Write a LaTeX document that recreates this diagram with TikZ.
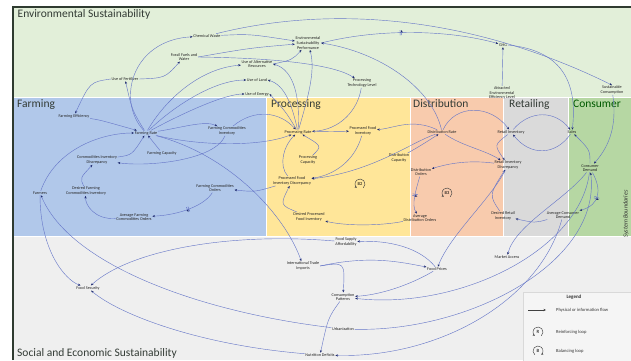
\documentclass[tikz,border=0pt]{standalone}
\usepackage{fontspec}
\setmainfont{Carlito}
\usetikzlibrary{arrows.meta,decorations.markings}
\definecolor{envc}{HTML}{E2EFD9}
\definecolor{farmc}{HTML}{B1C8EA}
\definecolor{procc}{HTML}{FFE699}
\definecolor{distc}{HTML}{F8CBAD}
\definecolor{retc}{HTML}{DADADA}
\definecolor{consc}{HTML}{B6D7A3}
\definecolor{socc}{HTML}{EFEFEF}
\definecolor{framec}{HTML}{2F3B30}
\definecolor{linec}{HTML}{6676C8}
\definecolor{tipc}{HTML}{1E2A6E}
\definecolor{titc}{HTML}{333B35}
\tikzset{
  lbl/.style={font=\fontsize{4.2}{4.6}\selectfont, align=center, inner sep=0.6pt, text=black!85},
  ttl/.style={font=\fontsize{11.5}{13}\selectfont, text=titc, anchor=base west, inner sep=0pt},
  cn/.style={draw=linec, line width=0.42pt, -{Stealth[length=2.6pt,width=2.2pt,color=tipc]}},
  delaymk/.style={postaction={decorate}, decoration={markings, mark=at position #1 with {\draw[linec, line width=0.5pt] (-0.8pt,-2.6pt) -- (-0.8pt,2.6pt) (0.8pt,-2.6pt) -- (0.8pt,2.6pt);}}},
  loopst/.style={draw=black!75, line width=0.45pt, -{Stealth[length=2.2pt,width=2pt]}},
  leglbl/.style={font=\fontsize{4.6}{5.2}\selectfont, anchor=west, inner sep=0pt, text=black!80}
}
\begin{document}
\begin{tikzpicture}[x=1pt,y=-1pt]
\useasboundingbox (0,0) rectangle (631,360);
\fill[white] (0,0) rectangle (631,360);
% regions
\fill[envc] (13,7) rectangle (631,97);
\fill[farmc] (13,97) rectangle (266,236);
\fill[procc] (266,97) rectangle (410,236);
\fill[distc] (410,97) rectangle (503,236);
\fill[retc] (503,97) rectangle (568,236);
\fill[consc] (568,97) rectangle (631,236);
\fill[socc] (13,236) rectangle (631,360);
\draw[white, line width=0.8pt] (13,97) -- (631,97) (13,236) -- (631,236)
  (266,97) -- (266,236) (410,97) -- (410,236) (503,97) -- (503,236) (568,97) -- (568,236);
\draw[framec, line width=1.6pt] (13,360) -- (13,7) -- (631,7);
% titles
\node[ttl] (tenv) at (17.5,17) {Environmental Sustainability};
\node[ttl] (tfarm) at (17,107.5) {Farming};
\node[ttl] (tproc) at (271,107.5) {Processing};
\node[ttl] (tdist) at (413,107.5) {Distribution};
\node[ttl] (tret) at (509,107.5) {Retailing};
\node[ttl, text=green!35!black] (tcons) at (573,107.5) {Consumer};
\node[ttl, font=\fontsize{11.5}{13}\selectfont] (tsoc) at (17,356.5) {Social and Economic Sustainability};
\node[font=\fontsize{6.2}{7}\selectfont\itshape, rotate=90, text=black!80, inner sep=0pt] (tsys) at (626,214) {System Boundaries};
% legend
\draw[draw=black!15, fill=white!96!black] (523,292) rectangle (631,361);
\node[font=\fontsize{5}{6}\selectfont\bfseries, text=black!80] (leg) at (574,297) {Legend};
\coordinate (la) at (528,310);
\coordinate (lb) at (546,310);
\draw[draw=black!75, line width=0.5pt, -{Stealth[length=2.6pt,width=2.4pt]}] (la) -- (lb);
\node[leglbl] (lg1) at (556,310) {Physical or information flow};
\node[font=\fontsize{4.8}{5}\selectfont, inner sep=0pt] (lr) at (538,332) {R};
\draw[loopst] ([shift={(3.2pt,-3.8pt)}]lr.center) arc[start angle=-50,end angle=230,radius=5pt];
\node[leglbl] (lg2) at (556,332) {Reinforcing loop};
\node[font=\fontsize{4.8}{5}\selectfont, inner sep=0pt] (lbb) at (538,351) {B};
\draw[loopst] ([shift={(-3.2pt,-3.8pt)}]lbb.center) arc[start angle=230,end angle=-50,radius=5pt];
\node[leglbl] (lg3) at (556,351) {Balancing loop};

% environmental nodes
\node[lbl] (chem) at (207,36) {Chemical Waste};
\node[lbl] (foss) at (184,57) {Fossil Fuels and\\Water};
\node[lbl] (fert) at (125,79) {Use of Fertilizer};
\node[lbl] (esp) at (308,43) {Environmental\\Sustainability\\Performance};
\node[lbl] (alt) at (257,64) {Use of Alternative\\Resources};
\node[lbl] (land) at (257,80) {Use of Land};
\node[lbl] (energy) at (257,94) {Use of Energy};
\node[lbl] (ptl) at (362,83) {Processing\\Technology Level};
\node[lbl] (ghg) at (503,45) {GHG};
\node[lbl] (aee) at (502,93) {Attracted\\Environmental\\Efficiency Level};
\node[lbl] (scons) at (612,90) {Sustainable\\Consumption};
% farming nodes
\node[lbl] (feff) at (74,116) {Farming Efficiency};
\node[lbl] (frate) at (146,133) {Farming Rate};
\node[lbl] (fcap) at (162,153) {Farming Capacity};
\node[lbl] (cid) at (97,160) {Commodities Inventory\\Discrepancy};
\node[lbl] (dfci) at (86,191) {Desired Farming\\Commodities Inventory};
\node[lbl] (farmers) at (40,193) {Farmers};
\node[lbl] (afco) at (134,217) {Average Farming\\Commodities Orders};
\node[lbl] (fco) at (215,188) {Farming Commodities\\Orders};
\node[lbl] (fci) at (227,131) {Farming Commodities\\Inventory};
% processing nodes
\node[lbl] (prate) at (298,132) {Processing Rate};
\node[lbl] (pcap) at (308,160) {Processing\\Capacity};
\node[lbl] (pfi) at (363,131) {Processed Food\\Inventory};
\node[lbl] (dcap) at (399,158) {Distribution\\Capacity};
\node[lbl] (pfid) at (292,181) {Processed Food\\Inventory Discrepancy};
\node[lbl] (dpfi) at (309,217) {Desired Processed\\Food Inventory};
\node[font=\fontsize{4.5}{5}\selectfont, inner sep=0pt] (loopa) at (360,184) {B2};
\draw[loopst] ([shift={(3.2pt,-3.8pt)}]loopa.center) arc[start angle=-50,end angle=230,radius=5pt];
% distribution nodes
\node[lbl] (drate) at (442,132) {Distribution Rate};
\node[lbl] (dord) at (421,172) {Distribution\\Orders};
\node[lbl] (ado) at (420,218) {Average\\Distribution Orders};
\node[font=\fontsize{4.5}{5}\selectfont, inner sep=0pt] (loopb) at (447,193) {B3};
\draw[loopst] ([shift={(3.2pt,-3.8pt)}]loopb.center) arc[start angle=-50,end angle=230,radius=5pt];
% retail nodes
\node[lbl] (rinv) at (511,132) {Retail Inventory};
\node[lbl] (rid) at (508,165) {Retail Inventory\\Discrepancy};
\node[lbl] (dri) at (503,216) {Desired Retail\\Inventory};
% consumer nodes
\node[lbl] (sales) at (572,132) {Sales};
\node[lbl] (cd) at (590,168) {Consumer\\Demand};
\node[lbl] (acd) at (563,215) {Average Consumer\\Demand};
% social nodes
\node[lbl] (fsa) at (346,242) {Food Supply\\Affordability};
\node[lbl] (iti) at (303,266) {International Trade\\Imports};
\node[lbl] (fp) at (437,269) {Food Prices};
\node[lbl] (ma) at (507,257) {Market Access};
\node[lbl] (cp) at (343,297) {Consumption\\Patterns};
\node[lbl] (urb) at (343,329) {Urbanization};
\node[lbl] (nd) at (320,355) {Nutrition Deficits};
\node[lbl] (fs) at (88,288) {Food Security};

% environmental connectors
\draw[cn] (frate) .. controls (116,100) and (132,40) .. (chem);
\draw[cn] (frate) .. controls (132,110) .. (fert);
\draw[cn] (fert.west) .. controls (90,82) .. (feff);
\draw[cn] (fert.east) .. controls (165,78) .. (foss);
\draw[cn] (frate) .. controls (165,100) and (200,68) .. (alt);
\draw[cn] (frate) .. controls (175,105) and (215,80) .. (land);
\draw[cn] (frate) .. controls (185,112) and (225,94) .. (energy);
\draw[cn] (prate) .. controls (300,100) and (295,70) .. (alt.east);
\draw[cn] (prate) .. controls (292,105) and (285,85) .. (land.east);
\draw[cn] (prate) .. controls (286,112) .. (energy.east);
\draw[cn] (prate) .. controls (307,100) and (316,72) .. (esp);
\draw[cn] (chem) .. controls (250,34) .. (esp);
\draw[cn] (foss.east) .. controls (250,48) .. (esp);
\draw[cn] (alt.east) .. controls (292,60) .. (esp);
\draw[cn] (foss.east) .. controls (280,58) and (335,65) .. (ptl);
\draw[cn] (ptl) .. controls (358,110) and (340,130) .. (prate);
\draw[cn] (chem) .. controls (330,5) and (470,15) .. (scons.north);
\draw[cn, delaymk=0.45] (esp.east) .. controls (380,28) and (450,30) .. (ghg);
\draw[cn] (ghg.east) .. controls (560,50) and (578,80) .. (sales);
\draw[cn] (aee) -- (ghg);
\draw[cn] (scons) .. controls (618,130) and (606,150) .. (cd);
\draw[cn] (drate) .. controls (432,88) and (380,52) .. (esp.east);
% farming connectors
\draw[cn] (feff) .. controls (100,120) .. (frate);
\draw[cn] (farmers) .. controls (55,150) and (100,133) .. (frate);
\draw[cn] (fcap) -- (frate);
\draw[cn] (cid) .. controls (132,155) .. (frate);
\draw[cn] (fci) .. controls (215,160) and (150,167) .. (cid);
\draw[cn] (dfci) .. controls (80,178) .. (cid);
\draw[cn] (afco) .. controls (95,220) and (85,205) .. (dfci);
\draw[cn, delaymk=0.45] (fco) .. controls (205,205) and (180,215) .. (afco);
\draw[cn] (frate) .. controls (180,128) and (205,120) .. (fci);
\draw[cn] (fci) .. controls (255,108) and (280,112) .. (prate);
\draw[cn] (frate) .. controls (200,146) and (260,147) .. (prate);
\draw[cn] (pfid) .. controls (255,192) .. (fco);
\draw[cn] (frate) .. controls (230,155) and (285,215) .. (iti);
% processing connectors
\draw[cn] (prate) -- (pfi);
\draw[cn] (drate) .. controls (412,118) and (395,128) .. (pfi);
\draw[cn] (pcap) .. controls (322,146) .. (prate);
\draw[cn] (pfi) .. controls (355,160) and (335,175) .. (pfid);
\draw[cn] (pfid) .. controls (278,165) and (284,145) .. (prate);
\draw[cn] (dpfi) .. controls (280,205) .. (pfid);
\draw[cn] (ado) .. controls (380,226) and (345,226) .. (dpfi);
\draw[cn] (drate) .. controls (412,142) and (372,172) .. (pfid);
\draw[cn] (dcap) .. controls (420,146) .. (drate);
% distribution / retail / consumer connectors
\draw[cn, delaymk=0.5] (dord) .. controls (416,190) and (411,205) .. (ado);
\draw[cn] (rid) .. controls (470,160) and (450,163) .. (dord);
\draw[cn] (drate) .. controls (455,104) and (490,104) .. (rinv);
\draw[cn] (drate) .. controls (462,146) and (485,150) .. (rid);
\draw[cn] (rinv) .. controls (494,145) .. (rid);
\draw[cn] (dri) .. controls (489,195) .. (rid);
\draw[cn] (acd) .. controls (535,223) .. (dri);
\draw[cn] (rinv) .. controls (530,110) and (555,110) .. (sales);
\draw[cn] (sales) .. controls (555,156) and (530,156) .. (rinv);
\draw[cn] (cd) .. controls (590,150) .. (sales);
\draw[cn, delaymk=0.55] (cd) .. controls (602,190) and (600,205) .. (acd);
% social connectors
\draw[cn] (rid) .. controls (490,200) and (450,235) .. (fp);
\draw[cn] (cd) .. controls (565,200) and (515,225) .. (ma);
\draw[cn] (iti.east) .. controls (345,262) .. (cp);
\draw[cn] (iti.east) .. controls (370,255) and (400,262) .. (fp);
\draw[cn] (fp) .. controls (410,285) and (380,295) .. (cp);
\draw[cn] (cd) .. controls (580,250) and (460,310) .. (cp);
\draw[cn] (urb) .. controls (470,332) and (602,262) .. (cd);
\draw[cn] (acd) .. controls (540,300) and (440,358) .. (nd);
\draw[cn] (fp) .. controls (420,248) and (390,240) .. (fsa);
\draw[cn] (fsa) .. controls (230,232) and (130,250) .. (fs);
\draw[cn] (cp) .. controls (328,318) .. (nd);
\draw[cn] (nd) .. controls (200,345) and (120,315) .. (fs);
\draw[cn] (farmers) .. controls (40,250) and (65,280) .. (fs);
\draw[cn] (urb) .. controls (200,312) and (70,265) .. (farmers);
\end{tikzpicture}
\end{document}
